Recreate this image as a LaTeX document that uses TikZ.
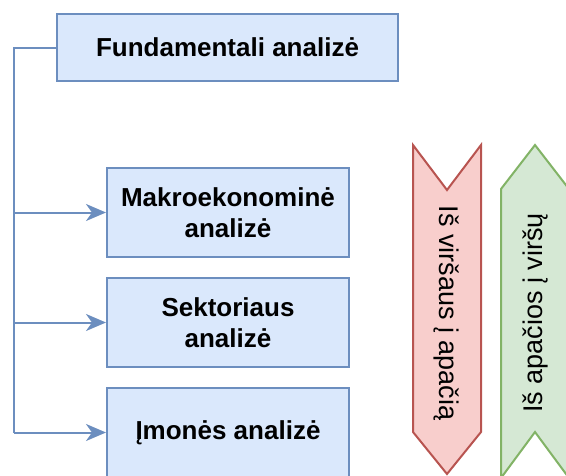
\documentclass[tikz,border=0pt]{standalone}
\usepackage{fontspec}
\setmainfont{Liberation Sans}
\usetikzlibrary{arrows.meta}

\definecolor{boxfill}{HTML}{DAE8FC}
\definecolor{boxline}{HTML}{6C8EBF}
\definecolor{redfill}{HTML}{F8CECC}
\definecolor{redline}{HTML}{B85450}
\definecolor{greenfill}{HTML}{D5E8D4}
\definecolor{greenline}{HTML}{82B366}

\tikzset{
	box/.style={draw=boxline, fill=boxfill, line width=2pt, align=center,
		minimum width=242pt, minimum height=89pt, inner sep=0pt,
		font=\fontsize{26}{31}\selectfont\bfseries},
	link/.style={draw=boxline, line width=2pt,
		-{Stealth[length=20pt, width=17pt, inset=6pt]}},
	vtext/.style={font=\fontsize{27}{30}\selectfont, inner sep=0pt}
}

\begin{document}
\begin{tikzpicture}[x=1pt, y=-1pt]

		\useasboundingbox (0,0) rectangle (566,475);

		% boxes
		\node[box, minimum width=341pt, minimum height=67pt] (fund) at (227.5, 47.5) {Fundamentali analizė};
		\node[box] (makro) at (228, 212.5) {Makroekonominė\\analizė};
		\node[box] (sekt)  at (228, 322.5) {Sektoriaus\\analizė};
		\node[box] (imone) at (228, 432.5) {Įmonės analizė};

		% connectors
		\coordinate (trunk) at (14, 0);
		\coordinate (b1) at (makro.west -| trunk);
		\coordinate (b2) at (sekt.west -| trunk);
		\coordinate (b3) at (imone.west -| trunk);
		\draw[boxline, line width=2pt] (fund.west) -| (b3);
		\draw[link] (b1) -- (makro.west);
		\draw[link] (b2) -- (sekt.west);
		\draw[link] (b3) -- (imone.west);

		% top down
		\draw[draw=redline, fill=redfill, line width=2pt, line join=miter]
			(413,145) -- (447,190) -- (481,145) -- (481,432)
			-- (447,474) -- (413,432) -- cycle;
		\node[vtext, rotate=-90] (down) at (447, 313) {Iš viršaus į apačią};

		% bottom up
		\draw[draw=greenline, fill=greenfill, line width=2pt, line join=miter]
			(501,189) -- (535,145) -- (569,189) -- (569,478)
			-- (535,432) -- (501,478) -- cycle;
		\node[vtext, rotate=90] (up) at (535, 313) {Iš apačios į viršų};

	\end{tikzpicture}
\end{document}
